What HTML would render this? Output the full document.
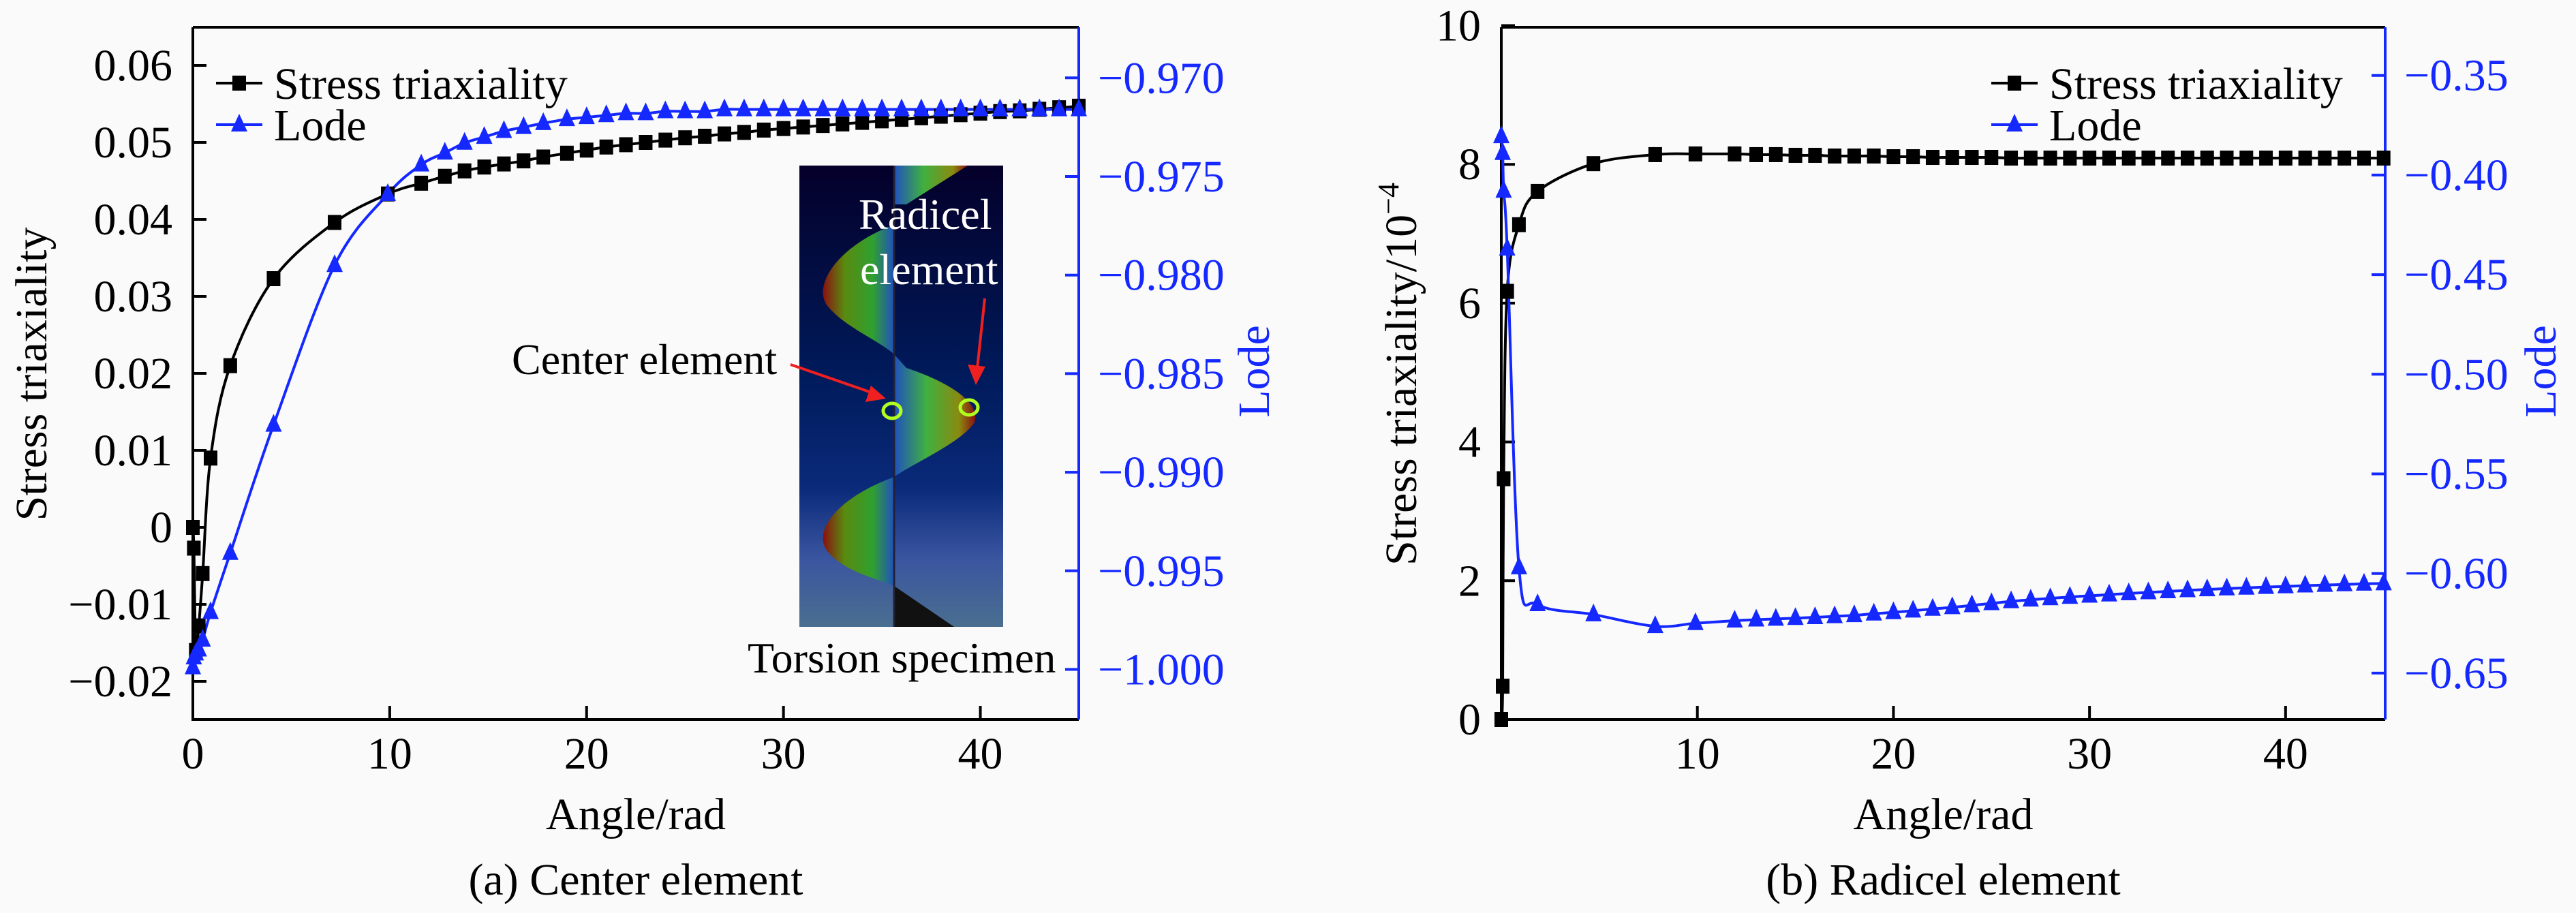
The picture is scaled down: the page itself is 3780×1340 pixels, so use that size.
<!DOCTYPE html>
<html><head><meta charset="utf-8">
<style>
html,body{margin:0;padding:0;background:#fafafa;}
svg text{font-family:'Liberation Serif','DejaVu Serif','Times New Roman',Times,serif !important;}
</style></head>
<body>
<svg id="fig" width="3780" height="1335" viewBox="0 0 3780 1335" xmlns="http://www.w3.org/2000/svg">
<rect x="0" y="0" width="3780" height="1335" fill="#fafafa"/>
<defs>
<linearGradient id="insetBg" x1="0" y1="0" x2="0" y2="1">
<stop offset="0" stop-color="#04002a"/><stop offset="0.45" stop-color="#001a5a"/><stop offset="0.7" stop-color="#0a2a7a"/><stop offset="0.85" stop-color="#3a55a0"/><stop offset="1" stop-color="#4a6e90"/>
</linearGradient>
<linearGradient id="helix" x1="0" y1="0" x2="1" y2="0">
<stop offset="0" stop-color="#8a1010"/><stop offset="0.3" stop-color="#5a8a10"/><stop offset="0.7" stop-color="#30a030"/><stop offset="1" stop-color="#2050c0"/>
</linearGradient>
<linearGradient id="helix2" x1="0" y1="0" x2="1" y2="0">
<stop offset="0" stop-color="#2050c0"/><stop offset="0.4" stop-color="#40b040"/><stop offset="0.8" stop-color="#8a8a10"/><stop offset="1" stop-color="#8a1010"/>
</linearGradient>
</defs>
<g id="inset">
<rect x="1173" y="243" width="299" height="677" fill="url(#insetBg)"/>
<path d="M1312,243 L1420,243 L1330,300 L1312,300 Z" fill="url(#helix2)"/>
<path d="M1312,330 C1230,360 1190,420 1215,450 C1240,480 1290,500 1312,520 L1312,330 Z" fill="url(#helix)"/>
<path d="M1312,520 L1330,540 C1390,560 1440,590 1430,620 C1410,650 1340,680 1312,700 Z" fill="url(#helix2)"/>
<path d="M1312,700 C1230,730 1190,780 1215,810 C1240,840 1290,850 1312,860 Z" fill="url(#helix)"/>
<path d="M1312,860 L1400,920 L1312,920 Z" fill="#111"/>
<line x1="1312" y1="243" x2="1312" y2="920" stroke="#223" stroke-width="3"/>
<text x="1260" y="336" font-size="64" fill="#fff" style="font-family:'Liberation Serif',serif">Radicel</text>
<text x="1262" y="417" font-size="64" fill="#fff" style="font-family:'Liberation Serif',serif">element</text>
<text x="751" y="549" font-size="64" fill="#000" style="font-family:'Liberation Serif',serif">Center element</text>
<line x1="1160" y1="535" x2="1290" y2="580" stroke="#f02020" stroke-width="4"/>
<polygon points="1300,585 1270,590 1278,566" fill="#f02020"/>
<line x1="1445" y1="438" x2="1433" y2="550" stroke="#f02020" stroke-width="4"/>
<polygon points="1432,565 1420,535 1446,538" fill="#f02020"/>
<ellipse cx="1309" cy="603" rx="13" ry="11" fill="none" stroke="#b0ff20" stroke-width="5"/>
<ellipse cx="1422" cy="598" rx="13" ry="11" fill="none" stroke="#b0ff20" stroke-width="5"/>
<text x="1097" y="987" font-size="64" fill="#000" style="font-family:'Liberation Serif',serif">Torsion specimen</text>
</g>
</svg>
<script>
// ---- Chart (a) Center element data ----
const aAngle = [0,0.05,0.15,0.3,0.5,0.9,1.9,4.1,7.2,9.9,11.6,12.8,13.8,14.8,15.8,16.8,17.8,19,20,21,22,23,24,25,26,27,28,29,30,31,32,33,34,35,36,37,38,39,40,41,42,43,44,45];
const aStress = [0,-0.0027,-0.016,-0.0128,-0.006,0.009,0.021,0.0323,0.0396,0.0433,0.0447,0.0456,0.0463,0.0468,0.0472,0.0476,0.0481,0.0486,0.0490,0.0494,0.0497,0.0500,0.0503,0.0506,0.0508,0.0511,0.0513,0.0516,0.0518,0.0520,0.0522,0.0524,0.0526,0.0528,0.0530,0.0532,0.0534,0.0536,0.0538,0.0540,0.0541,0.0543,0.0545,0.0547];
const aLode = [-0.9999,-0.9994,-0.9992,-0.999,-0.9985,-0.9971,-0.9941,-0.9876,-0.9795,-0.9759,-0.9744,-0.9738,-0.9733,-0.973,-0.9727,-0.9725,-0.9723,-0.9721,-0.9720,-0.9719,-0.9718,-0.9718,-0.9717,-0.9717,-0.9717,-0.9716,-0.9716,-0.9716,-0.9716,-0.9716,-0.9716,-0.9716,-0.9716,-0.9716,-0.9716,-0.9716,-0.9716,-0.9716,-0.9716,-0.9716,-0.9716,-0.9716,-0.9716,-0.9716];
const aXTicks = [0,10,20,30,40];
const aYTicks = [-0.02,-0.01,0,0.01,0.02,0.03,0.04,0.05,0.06];
const aYTickLabels = ["−0.02","−0.01","0","0.01","0.02","0.03","0.04","0.05","0.06"];
const aLodeTicks = [-1.000,-0.995,-0.990,-0.985,-0.980,-0.975,-0.970];
const aLodeTickLabels = ["−1.000","−0.995","−0.990","−0.985","−0.980","−0.975","−0.970"];

// ---- Chart (b) Radicel element data ----
const bAngle = [0,0.07,0.12,0.3,0.9,1.85,4.7,7.85,9.9,11.9,13,14,15,16,17,18,19,20,21,22,23,24,25,26,27,28,29,30,31,32,33,34,35,36,37,38,39,40,41,42,43,44,45];
const bStress = [0,0.48,3.47,6.17,7.13,7.61,8.01,8.14,8.15,8.15,8.14,8.14,8.13,8.13,8.12,8.12,8.12,8.11,8.11,8.10,8.10,8.10,8.10,8.09,8.09,8.09,8.09,8.09,8.09,8.09,8.09,8.09,8.09,8.09,8.09,8.09,8.09,8.09,8.09,8.09,8.09,8.09,8.09];
const bLode = [-0.3806,-0.389,-0.408,-0.437,-0.597,-0.6155,-0.6206,-0.6265,-0.625,-0.6237,-0.6232,-0.6228,-0.6224,-0.622,-0.6215,-0.621,-0.6202,-0.6195,-0.6187,-0.6178,-0.617,-0.616,-0.615,-0.614,-0.6132,-0.6125,-0.6118,-0.6112,-0.6106,-0.61,-0.6095,-0.609,-0.6085,-0.608,-0.6076,-0.6072,-0.6068,-0.6065,-0.6061,-0.6058,-0.6055,-0.6052,-0.605];
const bXTicks = [10,20,30,40];
const bYTicks = [0,2,4,6,8,10];
const bYTickLabels = ["0","2","4","6","8","10"];
const bLodeTicks = [-0.65,-0.60,-0.55,-0.50,-0.45,-0.40,-0.35];
const bLodeTickLabels = ["−0.65","−0.60","−0.55","−0.50","−0.45","−0.40","−0.35"];

const NS = "http://www.w3.org/2000/svg";
const svg = document.getElementById("fig");
const BLUE = "#1428ff";
function mk(tag, attrs, parent){
  const e = document.createElementNS(NS, tag);
  if (tag === "text") e.style.fontFamily = "'Liberation Serif', 'DejaVu Serif', serif";
  for (const k in attrs) e.setAttribute(k, attrs[k]);
  (parent||svg).appendChild(e);
  return e;
}
function smoothPath(pts){
  let d = "M" + pts[0][0] + "," + pts[0][1];
  for (let i=0;i<pts.length-1;i++){
    const p0 = pts[Math.max(0,i-1)], p1 = pts[i], p2 = pts[i+1], p3 = pts[Math.min(pts.length-1,i+2)];
    const c1x = p1[0]+(p2[0]-p0[0])/6, c1y = p1[1]+(p2[1]-p0[1])/6;
    const c2x = p2[0]-(p3[0]-p1[0])/6, c2y = p2[1]-(p3[1]-p1[1])/6;
    d += " C"+c1x+","+c1y+" "+c2x+","+c2y+" "+p2[0]+","+p2[1];
  }
  return d;
}
function chart(cfg){
  const g = mk("g", {});
  
  
  const X = v => cfg.x0 + (v - cfg.xmin) / (cfg.xmax - cfg.xmin) * (cfg.x1 - cfg.x0);
  const Y = v => cfg.yAt(v);
  const YL = v => cfg.lodeAt(v);
  const ax = mk("path", {d:`M${cfg.x0},${cfg.top} L${cfg.x0},${cfg.bot} L${cfg.x1},${cfg.bot}`, fill:"none", stroke:"#000", "stroke-width":4}, g);
  
  
  const tp = mk("line", {x1:cfg.x0, y1:cfg.top, x2:cfg.x1, y2:cfg.top, stroke:"#000", "stroke-width":4}, g);
  
  
  const ra = mk("line", {x1:cfg.x1, y1:cfg.top, x2:cfg.x1, y2:cfg.bot, stroke:BLUE, "stroke-width":4}, g);
  
  
  cfg.xTicks.forEach(v => {
    const t = mk("line", {x1:X(v), y1:cfg.bot, x2:X(v), y2:cfg.bot-20, stroke:"#000", "stroke-width":4}, g);
    
    
    const l = mk("text", {x:X(v), y:cfg.bot+72, "font-size":66, "text-anchor":"middle"}, g);
    
    
    l.textContent = v;
  });
  cfg.yTicks.forEach((v,i) => {
    const t = mk("line", {x1:cfg.x0, y1:Y(v), x2:cfg.x0+20, y2:Y(v), stroke:"#000", "stroke-width":4}, g);
    
    
    const l = mk("text", {x:cfg.x0-30, y:Y(v)+22, "font-size":66, "text-anchor":"end"}, g);
    
    
    l.textContent = cfg.yTickLabels[i];
  });
  cfg.lodeTicks.forEach((v,i) => {
    const t = mk("line", {x1:cfg.x1, y1:YL(v), x2:cfg.x1-20, y2:YL(v), stroke:BLUE, "stroke-width":4}, g);
    
    
    const l = mk("text", {x:cfg.x1+28, y:YL(v)+22, "font-size":66, fill:BLUE}, g);
    
    
    l.textContent = cfg.lodeTickLabels[i];
  });
  const yt = mk("text", {x:0, y:0, "font-size":66, "text-anchor":"middle", transform:`translate(${cfg.yTitleX},${cfg.yTitleY}) rotate(-90)`}, g);
  
  
  yt.innerHTML = cfg.yTitle;
  const lt = mk("text", {x:0, y:0, "font-size":66, fill:BLUE, "text-anchor":"middle", transform:`translate(${cfg.lodeTitleX},${cfg.lodeTitleY}) rotate(-90)`}, g);
  
  
  lt.textContent = "Lode";
  const xt = mk("text", {x:(cfg.x0+cfg.x1)/2, y:1217, "font-size":66, "text-anchor":"middle"}, g);
  
  
  xt.textContent = "Angle/rad";
  const cp = mk("text", {x:(cfg.x0+cfg.x1)/2, y:1313, "font-size":66, "text-anchor":"middle"}, g);
  
  
  cp.textContent = cfg.caption;
  const sPts = cfg.angle.map((a,i) => [X(a), Y(cfg.stress[i])]);
  const lPts = cfg.angle.map((a,i) => [X(a), YL(cfg.lode[i])]);
  const sl = mk("path", {d:smoothPath(sPts), fill:"none", stroke:"#000", "stroke-width":4}, g);
  
  
  const ll = mk("path", {d:smoothPath(lPts), fill:"none", stroke:BLUE, "stroke-width":4}, g);
  
  
  sPts.forEach(p => {
    const m = mk("rect", {x:p[0]-10, y:p[1]-11, width:20, height:22, fill:"#000"}, g);
    
    
  });
  lPts.forEach(p => {
    const m = mk("polygon", {points:`${p[0]},${p[1]-16} ${p[0]-12},${p[1]+10} ${p[0]+12},${p[1]+10}`, fill:BLUE}, g);
    
    
  });
  const lg = mk("g", {}, g);
  
  
  const lx = cfg.legX;
  mk("line", {x1:lx, y1:122, x2:lx+68, y2:122, stroke:"#000", "stroke-width":4}, lg);
  mk("rect", {x:lx+24, y:111, width:20, height:22, fill:"#000"}, lg);
  const t1 = mk("text", {x:lx+85, y:145, "font-size":66}, lg);
  
  
  t1.textContent = "Stress triaxiality";
  mk("line", {x1:lx, y1:183, x2:lx+68, y2:183, stroke:BLUE, "stroke-width":4}, lg);
  mk("polygon", {points:`${lx+34},${167} ${lx+22},${193} ${lx+46},${193}`, fill:BLUE}, lg);
  const t2 = mk("text", {x:lx+85, y:206, "font-size":66}, lg);
  
  
  t2.textContent = "Lode";
}
chart({
  name:"chart-center-element", x0:283, x1:1583, top:40, bot:1056, xmin:0, xmax:45,
  yAt: v => 96 + (0.06 - v) / 0.01 * 113,
  lodeAt: v => 259 + (-0.975 - v) / 0.005 * 144.7,
  xTicks:aXTicks, yTicks:aYTicks, yTickLabels:aYTickLabels,
  lodeTicks:aLodeTicks, lodeTickLabels:aLodeTickLabels,
  angle:aAngle, stress:aStress, lode:aLode,
  yTitle:"Stress triaxiality", yTitleX:68, yTitleY:549,
  lodeTitleX:1862, lodeTitleY:545, caption:"(a) Center element", legX:317
});
chart({
  name:"chart-radicel-element", x0:2203, x1:3500, top:40, bot:1056, xmin:0, xmax:45.08,
  yAt: v => 1056 - v * 101.85,
  lodeAt: v => 110.7 + (-0.35 - v) / 0.05 * 146.2,
  xTicks:bXTicks, yTicks:bYTicks, yTickLabels:bYTickLabels,
  lodeTicks:bLodeTicks, lodeTickLabels:bLodeTickLabels,
  angle:bAngle, stress:bStress, lode:bLode,
  yTitle:'Stress triaxiality/10<tspan dy="-26" font-size="44">−4</tspan>', yTitleX:2078, yTitleY:549,
  lodeTitleX:3750, lodeTitleY:545, caption:"(b) Radicel element", legX:2922
});
</script>
</body></html>
